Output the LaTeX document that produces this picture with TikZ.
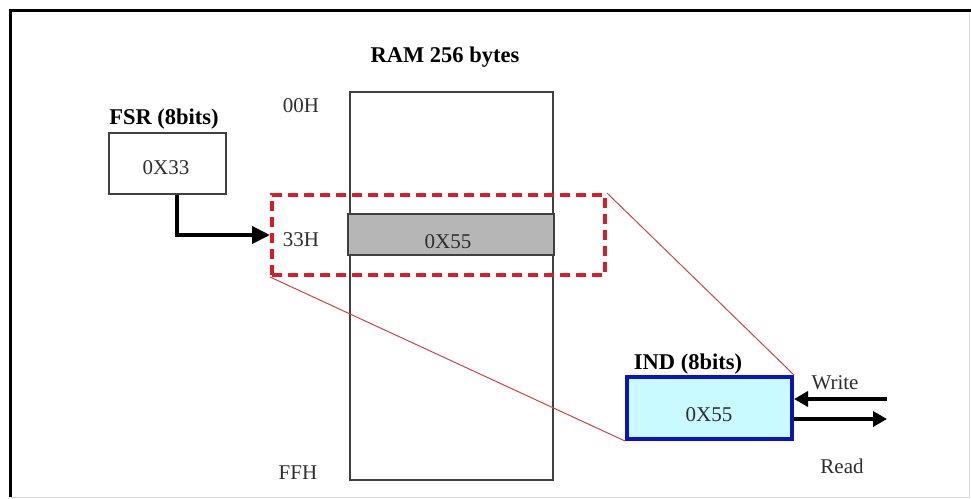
\documentclass[tikz,border=0pt]{standalone}
\usepackage{fontspec}
\setmainfont{Liberation Serif}
\usetikzlibrary{arrows.meta}
\definecolor{selred}{RGB}{215,30,40}
\definecolor{linkred}{RGB}{200,70,70}
\definecolor{indblue}{RGB}{10,20,190}
\definecolor{indfill}{RGB}{200,250,255}
\definecolor{rowgray}{RGB}{182,182,182}
\definecolor{txt}{RGB}{45,45,45}
\tikzset{
  lbl/.style={inner sep=0pt, text=txt, font=\fontsize{21}{24}\selectfont},
  blbl/.style={inner sep=0pt, text=black, font=\fontsize{22.5}{26}\selectfont\bfseries},
  box/.style={draw=black!75, line width=1.6pt, inner sep=0pt},
  bigarrow/.style={line width=4pt, -{Triangle[length=18pt,width=17pt]}},
  iarrow/.style={line width=4pt, -{Triangle[length=14pt,width=15pt]}},
}
\begin{document}
\begin{tikzpicture}[x=1pt,y=-1pt]
\useasboundingbox (0,0) rectangle (971,498);
% frame
\draw[black!15, line width=1pt] (969,10.5) -- (969,497) -- (10.5,497);
\draw[black, line width=3pt] (10.5,497) -- (10.5,10.5) -- (971,10.5);
% RAM
\node[box, minimum width=203pt, minimum height=388pt] (ram) at (451.5,286) {};
\node[box, fill=rowgray, minimum width=206pt, minimum height=41pt] (row) at (451,234.5) {};
\node[lbl] (rowtxt) at (448,242) {0X55};
\node[blbl] (ramlbl) at (445,57) {RAM 256 bytes};
\node[lbl] (a00) at (301,106) {00H};
\node[lbl] (a33) at (301,240) {33H};
\node[lbl] (aff) at (298,473) {FFH};
% selection
\node[draw=selred, line width=4pt, dash pattern=on 10pt off 6pt, minimum width=333pt, minimum height=80pt, inner sep=0pt] (sel) at (438.5,235) {};
% FSR
\node[box, minimum width=117pt, minimum height=61pt] (fsr) at (167.5,163.5) {};
\node[lbl] (fsrv) at (166,168) {0X33};
\node[blbl] (fsrlbl) at (164,119) {FSR (8bits)};
\draw[bigarrow] (fsr.south -| 177,0) |- (sel.west);
% IND
\node[draw=indblue, fill=indfill, line width=4pt, minimum width=165pt, minimum height=62pt, inner sep=0pt] (ind) at (709.5,408) {};
\node[lbl] (indv) at (709,415) {0X55};
\node[blbl] (indlbl) at (688,364) {IND (8bits)};
% links
\draw[linkred, line width=1pt] (sel.north east) -- (ind.north east);
\draw[linkred, line width=1pt] (sel.south west) -- (ind.south west);
% write / read
\coordinate (wr) at (887,399);
\coordinate (rd) at (887,419);
\draw[iarrow] (wr) -- (ind.east |- wr);
\draw[iarrow] (ind.east |- rd) -- (rd);
\node[lbl] (wlbl) at (835,383) {Write};
\node[lbl] (rlbl) at (842,466) {Read};
\end{tikzpicture}
\end{document}
